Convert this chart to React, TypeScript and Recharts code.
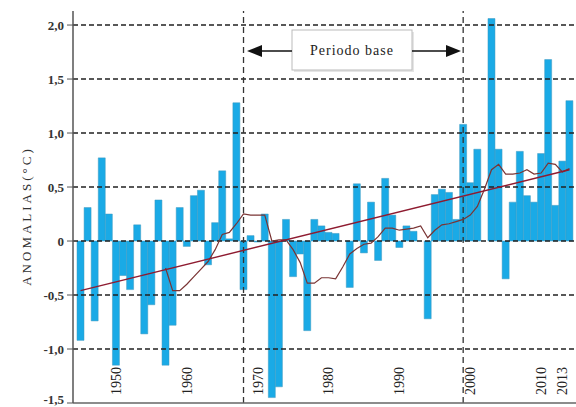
import React from "react";
import {
  ComposedChart,
  Bar,
  Line,
  XAxis,
  YAxis,
  ReferenceLine,
} from "recharts";

// annual temperature anomalies (°C), one bar per year from firstYear
const firstYear = 1945;
const anomalies = [
  -0.92, 0.31, -0.74, 0.77, 0.25, -1.15, -0.32, -0.45, 0.15, -0.86,
  -0.59, 0.38, -1.15, -0.78, 0.31, -0.05, 0.42, 0.47, -0.22, 0.17,
  0.65, 0.02, 1.28, -0.45, 0.05, -0.01, 0.25, -1.45, -1.35, 0.2,
  -0.33, -0.12, -0.83, 0.2, 0.14, 0.08, 0.07, 0.0, -0.43, 0.53,
  -0.11, 0.36, -0.18, 0.58, 0.24, -0.06, 0.14, 0.09, 0.0, -0.72,
  0.43, 0.48, 0.45, 0.2, 1.08, 0.54, 0.85, 0.0, 2.06, 0.85,
  -0.35, 0.36, 0.83, 0.42, 0.36, 0.81, 1.68, 0.33, 0.74, 1.3,
];

// moving average, starts after the first years
const movingAvg: (number | null)[] = [
  null, null, null, null, null, null, null, null, null, null,
  null, null, -0.25, -0.46, -0.46, -0.4, -0.33, -0.26, -0.19, -0.08,
  0.06, 0.08, 0.16, 0.25, 0.24, 0.24, 0.24, 0.0, 0.01, 0.01,
  -0.08, -0.2, -0.39, -0.39, -0.34, -0.34, -0.35, -0.24, -0.12, -0.07,
  -0.03, -0.02, 0.04, 0.12, 0.12, 0.1, 0.11, 0.12, 0.14, 0.03,
  0.1, 0.15, 0.16, 0.18, 0.2, 0.24, 0.32, 0.48, 0.66, 0.71,
  0.62, 0.62, 0.63, 0.66, 0.62, 0.63, 0.72, 0.71, 0.64, 0.67,
];

const trendStart = -0.46;
const trendEnd = 0.66;

const xTicks = [1950, 1960, 1970, 1980, 1990, 2000, 2010, 2013];
const yTicks = [-1.5, -1, -0.5, 0, 0.5, 1, 1.5, 2];
const periodLines = [1968, 1999];

const data = anomalies.map((v, i) => ({
  year: firstYear + i,
  anomaly: v,
  ma: movingAvg[i],
}));

const serif = "'Liberation Serif', 'Times New Roman', serif";

function YearTick({ x, y, payload }: any) {
  const ty = y - 8;
  return (
    <text
      x={x}
      y={ty}
      dy="0.35em"
      transform={`rotate(-90 ${x} ${ty})`}
      textAnchor="start"
      fontFamily={serif}
      fontSize={14}
      fill="#222"
    >
      {payload.value}
    </text>
  );
}

const fmt = (v: number) => (v === 0 ? "0" : v.toFixed(1).replace(".", ","));

// bottom label sits on the page edge, lift it a little so it is not cut
function ValueTick({ x, y, payload }: any) {
  const lift = payload.value === yTicks[0] ? -4 : 0;
  return (
    <text
      x={x}
      y={y + lift}
      dy="0.35em"
      textAnchor="end"
      fontFamily={serif}
      fontSize={13}
      fontWeight={700}
      fill="#333"
    >
      {fmt(payload.value)}
    </text>
  );
}

export default function App() {
  const first = data[0].year;
  const last = data[data.length - 1].year;
  return (
    <div style={{ position: "absolute", left: 0, top: 0, width: 576, height: 407, background: "#fff" }}>
      <ComposedChart
        width={576}
        height={407}
        data={data}
        margin={{ top: 11, right: 0, bottom: 3, left: 0 }}
        barCategoryGap={0}
      >
        <XAxis
          dataKey="year"
          ticks={xTicks}
          interval={0}
          height={1}
          tickSize={0}
          tickMargin={0}
          tick={<YearTick />}
          axisLine={{ stroke: "#666", strokeWidth: 1.5 }}
          padding={{ left: 4, right: 3 }}
        />
        <YAxis
          width={73}
          domain={[-1.5, 2.13]}
          ticks={yTicks}
          interval={0}
          tickSize={6}
          tickMargin={3}
          axisLine={{ stroke: "#555", strokeWidth: 1.5 }}
          tickLine={{ stroke: "#555" }}
          tick={<ValueTick />}
          allowDataOverflow
        />
        <Bar
          dataKey="anomaly"
          fill="#1aaae6"
          stroke="#3f98bf"
          strokeWidth={0.5}
          isAnimationActive={false}
        />
        {yTicks
          .filter((t) => t > yTicks[0])
          .map((t) => (
            <ReferenceLine
              key={`g${t}`}
              y={t}
              stroke="#222"
              strokeDasharray="5 3"
              strokeWidth={1.4}
            />
          ))}
        {periodLines.map((yr) => (
          <ReferenceLine key={yr} x={yr} stroke="#333" strokeDasharray="6 4" strokeWidth={1.3} />
        ))}
        <Line
          dataKey="ma"
          type="linear"
          stroke="#7a3434"
          strokeWidth={1.2}
          dot={false}
          isAnimationActive={false}
        />
        <ReferenceLine
          segment={[
            { x: first, y: trendStart },
            { x: last, y: trendEnd },
          ]}
          stroke="#8e1b30"
          strokeWidth={1.4}
        />
      </ComposedChart>
      <svg
        width={576}
        height={407}
        style={{ position: "absolute", left: 0, top: 0, pointerEvents: "none" }}
      >
        <text
          x={31}
          y={216}
          transform="rotate(-90 31 216)"
          textAnchor="middle"
          fontFamily={serif}
          fontSize={13}
          letterSpacing={3}
          fill="#333"
        >
          ANOMALIAS(°C)
        </text>
        <rect x={294} y={32} width={120} height={40} fill="#ccc" opacity={0.5} />
        <rect x={292} y={30} width={120} height={40} fill="#fff" stroke="#bbb" />
        <text x={352} y={55} textAnchor="middle" fontFamily={serif} fontSize={14} letterSpacing={1} fill="#222">
          Periodo base
        </text>
        <line x1={292} y1={51} x2={260} y2={51} stroke="#111" strokeWidth={1.5} />
        <polygon points="247,51 262,45 262,57" fill="#111" />
        <line x1={412} y1={51} x2={447} y2={51} stroke="#111" strokeWidth={1.5} />
        <polygon points="461,51 446,45 446,57" fill="#111" />
      </svg>
    </div>
  );
}
